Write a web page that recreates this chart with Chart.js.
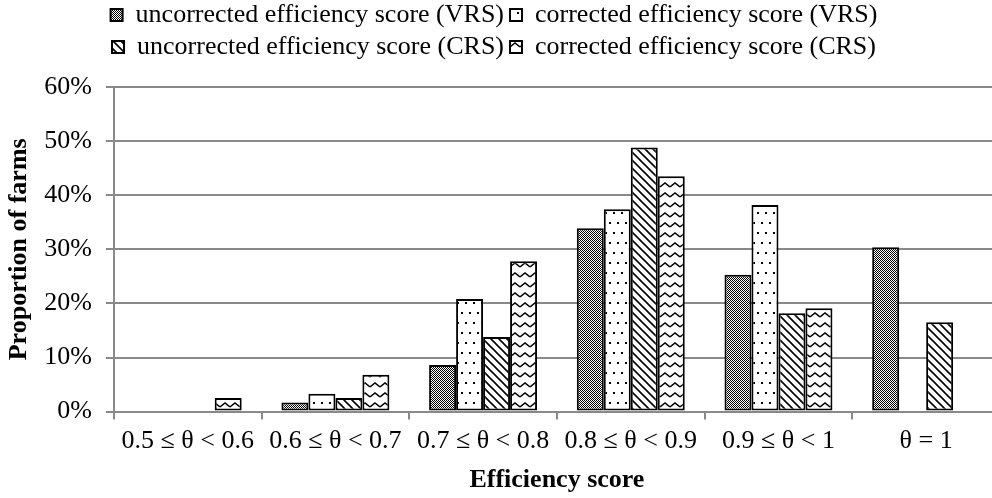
<!DOCTYPE html>
<html>
<head>
<meta charset="utf-8">
<script src="https://cdn.jsdelivr.net/npm/chart.js@4"></script>
<style>
    html, body { margin: 0; padding: 0; background: #fff; overflow: hidden; }
    #wrap { position: relative; width: 1000px; height: 498px; }
</style>
</head>
<body>
<div id="wrap"><canvas id="efficiencyChart"></canvas></div>
<script>
// Kategoriler ve seriler
const categories = ['0.5 ≤ θ < 0.6', '0.6 ≤ θ < 0.7', '0.7 ≤ θ < 0.8', '0.8 ≤ θ < 0.9', '0.9 ≤ θ < 1', 'θ = 1'];
const seriesNames = [
    'uncorrected efficiency score (VRS)',
    'corrected efficiency score (VRS)',
    'uncorrected efficiency score (CRS)',
    'corrected efficiency score (CRS)'
];
const uncorrectedVRS = [0, 1.7, 8.6, 33.9, 25.3, 30.4];
const correctedVRS = [0, 3.3, 20.8, 37.4, 38.2, 0];
const uncorrectedCRS = [0, 2.5, 13.8, 48.8, 18.2, 16.5];
const correctedCRS = [2.5, 6.8, 27.8, 43.5, 19.1, 0];
const yTicks = [0, 10, 20, 30, 40, 50, 60];

const FONT = "'Liberation Serif', 'Times New Roman', serif";
const GRID = '#898989';

// Desen oluştur
function makePattern(w, h, draw) {
    const c = document.createElement('canvas');
    c.width = w;
    c.height = h;
    const g = c.getContext('2d');
    g.fillStyle = '#fff';
    g.fillRect(0, 0, w, h);
    draw(g);
    return g.createPattern(c, 'repeat');
}

// küçük dama deseni
const checkerPattern = makePattern(2, 2, g => {
    g.fillStyle = '#000';
    g.fillRect(0, 0, 1, 1);
    g.fillRect(1, 1, 1, 1);
});

// seyrek noktalar
const dotPattern = makePattern(8, 20, g => {
    g.fillStyle = '#000';
    g.fillRect(1, 2, 2, 2);
    g.fillRect(5, 12, 2, 2);
});

// çapraz çizgiler
const diagPattern = makePattern(8, 8, g => {
    g.strokeStyle = '#000';
    g.lineWidth = 1.6;
    g.beginPath();
    g.moveTo(-2, -2); g.lineTo(10, 10);
    g.moveTo(-10, -2); g.lineTo(2, 10);
    g.moveTo(6, -2); g.lineTo(18, 10);
    g.stroke();
});

// zikzak
const zigzagPattern = makePattern(10, 10, g => {
    g.strokeStyle = '#000';
    g.lineWidth = 1.6;
    g.beginPath();
    g.moveTo(0, 7); g.lineTo(5, 3); g.lineTo(10, 7);
    g.stroke();
});

const patterns = [checkerPattern, dotPattern, diagPattern, zigzagPattern];
const seriesData = [uncorrectedVRS, correctedVRS, uncorrectedCRS, correctedCRS];

// Lejant ile grafik arasında boşluk
const legendSpacing = {
    id: 'legendSpacing',
    beforeInit(chart) {
        const fit = chart.legend.fit;
        chart.legend.fit = function () {
            fit.call(this);
            this.height += 17;
        };
    },
    afterLayout(chart) {
        // lejantı biraz sola kaydır
        chart.legend.left -= 6;
        chart.legend.right -= 6;
    }
};

Chart.defaults.font.family = FONT;
Chart.defaults.font.size = 26;
Chart.defaults.color = '#000';

const ctx = document.getElementById('efficiencyChart').getContext('2d');
const efficiencyChart = new Chart(ctx, {
    type: 'bar',
    data: {
        labels: categories,
        datasets: seriesNames.map((name, i) => ({
            label: name,
            data: seriesData[i],
            backgroundColor: patterns[i],
            borderColor: '#000',
            borderWidth: 2,
            borderSkipped: false,
            categoryPercentage: 0.731,
            barPercentage: 1
        }))
    },
    plugins: [legendSpacing],
    options: {
        responsive: true,
        maintainAspectRatio: false,
        animation: false,
        layout: {
            padding: { top: -4, left: 0, right: 0, bottom: 0 }
        },
        plugins: {
            tooltip: { enabled: false },
            legend: {
                position: 'top',
                labels: {
                    boxWidth: 12,
                    boxHeight: 12,
                    padding: 6,
                    font: { size: 26 }
                }
            }
        },
        scales: {
            x: {
                grid: {
                    drawOnChartArea: false,
                    color: GRID,
                    lineWidth: 2,
                    tickLength: 8,
                    offset: true
                },
                border: { color: GRID, width: 2 },
                ticks: { padding: 6, maxRotation: 0 },
                title: {
                    display: true,
                    text: 'Efficiency score',
                    font: { weight: 'bold', size: 26 },
                    padding: { top: 2, bottom: 2 }
                }
            },
            y: {
                min: 0,
                max: 60,
                afterBuildTicks: scale => {
                    scale.ticks = yTicks.map(v => ({ value: v }));
                },
                grid: {
                    color: GRID,
                    lineWidth: 2,
                    tickLength: 8
                },
                border: { color: GRID, width: 2 },
                ticks: {
                    padding: 14,
                    callback: v => v + '%'
                },
                title: {
                    display: true,
                    text: 'Proportion of farms',
                    font: { weight: 'bold', size: 26 },
                    padding: { top: 4, bottom: -5 }
                }
            }
        }
    }
});
</script>
</body>
</html>
